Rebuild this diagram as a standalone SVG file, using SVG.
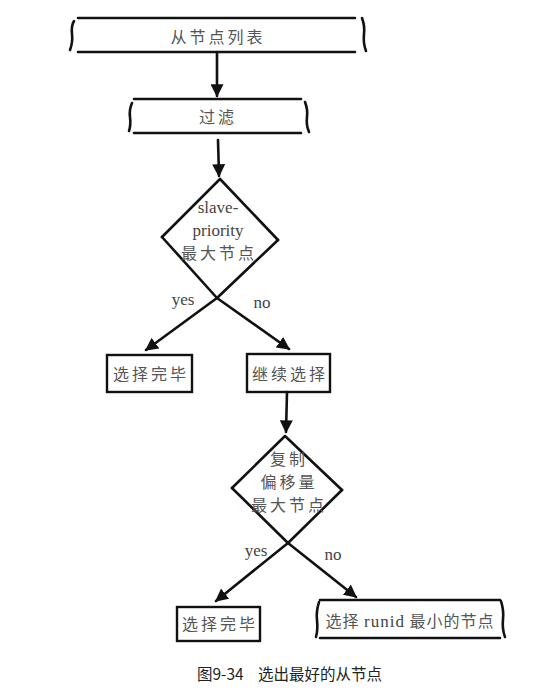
<svg xmlns="http://www.w3.org/2000/svg" width="555" height="694" viewBox="0 0 555 694">
<defs>
<style>
.ln{fill:none;stroke:#111;stroke-width:2.6;stroke-linecap:round;stroke-linejoin:round}
.bx{fill:none;stroke:#111;stroke-width:2.4}
.zh{font-family:"Noto Sans CJK SC",sans-serif;font-size:16px;fill:#555;text-anchor:middle;letter-spacing:3px}
.en{font-family:"Liberation Serif","Noto Sans CJK SC",serif;font-size:17px;fill:#444;text-anchor:middle}
.cap{font-family:"Noto Sans CJK SC",sans-serif;font-size:15.5px;fill:#222}
</style>
<marker id="ah" viewBox="0 0 10 10" refX="9" refY="5" markerWidth="5" markerHeight="5" orient="auto" markerUnits="strokeWidth">
<path d="M0,0 L10,5 L0,10 Z" fill="#111"/>
</marker>
</defs>
<rect width="555" height="694" fill="#fff"/>
<g id="connectors">
<path class="ln" d="M217,52 L217,96" marker-end="url(#ah)"/>
<path class="ln" d="M218,140 L219,176" marker-end="url(#ah)"/>
<path class="ln" d="M162,237 L217,298 L289,349" marker-end="url(#ah)"/>
<path class="ln" d="M278,240 L217,298 L146,350" marker-end="url(#ah)"/>
<path class="ln" d="M287,392 L286,432" marker-end="url(#ah)"/>
<path class="ln" d="M232,488 L288,543 L356,597" marker-end="url(#ah)"/>
<path class="ln" d="M342,490 L288,543 L216,601" marker-end="url(#ah)"/>
<text class="en" x="183" y="305">yes</text>
<text class="en" x="262" y="308">no</text>
<text class="en" x="256" y="556">yes</text>
<text class="en" x="333" y="560">no</text>
</g>
<g id="n1">
<path class="ln" d="M78,18 L355,18 M78,52 L355,52"/>
<path class="ln" d="M74,21 Q71,26 72,34 Q73,42 70,50"/>
<path class="ln" d="M362,18 Q365,26 364,34 Q363,43 366,51"/>
<text class="zh" x="218" y="43">从节点列表</text>
</g>
<g id="n2">
<path class="ln" d="M134,99 L301,99 M134,133 L301,133"/>
<path class="ln" d="M132,103 Q129,110 130,117 Q131,125 129,131"/>
<path class="ln" d="M305,102 Q308,110 307,117 Q306,125 309,132"/>
<text class="zh" x="218" y="123">过滤</text>
</g>
<g id="d1">
<path class="ln" d="M162,237 L220,179 L278,240"/>
<text class="en" x="218" y="213">slave-</text>
<text class="en" x="218" y="236">priority</text>
<text class="zh" x="219" y="259">最大节点</text>
</g>
<g id="n3">
<rect class="bx" x="107" y="355" width="85" height="37"/>
<text class="zh" x="151" y="380">选择完毕</text>
</g>
<g id="n4">
<rect class="bx" x="247" y="354" width="83" height="38"/>
<text class="zh" x="290" y="380">继续选择</text>
</g>
<g id="d2">
<path class="ln" d="M232,488 L285,436 L342,490"/>
<text class="zh" x="289" y="465">复制</text>
<text class="zh" x="289" y="488">偏移量</text>
<text class="zh" x="289" y="511">最大节点</text>
</g>
<g id="n5">
<rect class="bx" x="177" y="607" width="83" height="34"/>
<text class="zh" x="220" y="630">选择完毕</text>
</g>
<g id="n6">
<path class="ln" d="M320,600 L500,600 M320,638 L500,638"/>
<path class="ln" d="M319,602 Q316,612 317,620 Q318,630 316,637"/>
<path class="ln" d="M501,601 Q504,611 503,619 Q502,629 505,637"/>
<text class="zh" x="410" y="627" style="letter-spacing:1px">选择 <tspan class="en" style="font-size:17px">runid</tspan> 最小的节点</text>
</g>
<g id="caption">
<text class="cap" x="197" y="680">图9-34</text>
<text class="cap" x="258" y="680">选出最好的从节点</text>
</g>
</svg>
